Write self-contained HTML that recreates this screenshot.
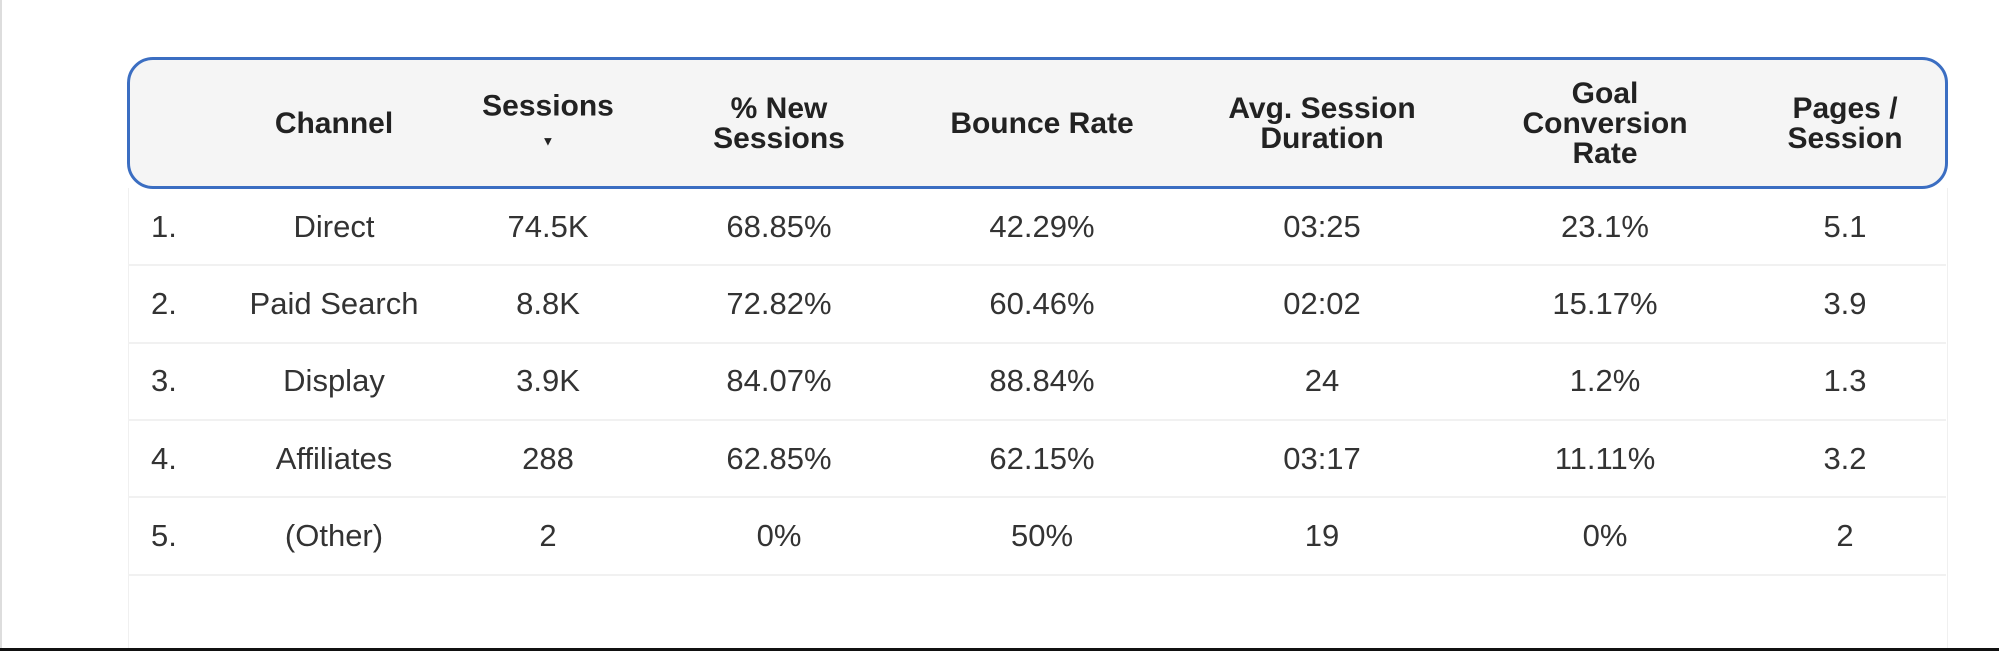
<!DOCTYPE html>
<html><head><meta charset="utf-8">
<style>
body{margin:0;width:1999px;height:651px;background:#fff;position:relative;overflow:hidden;font-family:"Liberation Sans",sans-serif;}
#leftline{position:absolute;left:0;top:0;width:2px;height:651px;background:#ddd;}
#bottomline{position:absolute;left:0;top:648px;width:1999px;height:3px;background:#111;}
#body{position:absolute;left:128px;top:188px;width:1818px;height:460px;background:#fff;border-left:1px solid #f0f0f0;border-right:1px solid #f0f0f0;}
#header{position:absolute;left:127px;top:57px;width:1815px;height:126px;background:#f5f5f5;border:3px solid #3b6ec2;border-radius:26px;}
.h{position:absolute;transform:translate(-50%,-50%);text-align:center;font-weight:bold;font-size:30px;line-height:30px;color:#222;white-space:nowrap;}
.c{position:absolute;transform:translate(-50%,-50%);font-size:31px;color:#333;white-space:nowrap;}
.idx{position:absolute;transform:translateY(-50%);font-size:31px;color:#333;}
.sep{position:absolute;left:128px;width:1818px;height:2px;background:#f1f1f1;}
</style></head>
<body>
<div id="leftline"></div>
<div id="body"></div>
<div id="header"></div>
<div class="h" style="left:334px;top:124px">Channel</div>
<div class="h" style="left:548px;top:124px">Sessions<br><span style="font-size:13px">▼</span></div>
<div class="h" style="left:779px;top:124px">% New<br>Sessions</div>
<div class="h" style="left:1042px;top:124px">Bounce Rate</div>
<div class="h" style="left:1322px;top:124px">Avg. Session<br>Duration</div>
<div class="h" style="left:1605px;top:124px">Goal<br>Conversion<br>Rate</div>
<div class="h" style="left:1845px;top:124px">Pages /<br>Session</div>
<div id="bottomline"></div>
<script>
const channels=["Direct","Paid Search","Display","Affiliates","(Other)"];
const sessions=["74.5K","8.8K","3.9K","288","2"];
const newSessions=["68.85%","72.82%","84.07%","62.85%","0%"];
const bounceRate=["42.29%","60.46%","88.84%","62.15%","50%"];
const avgDuration=["03:25","02:02","24","03:17","19"];
const goalRate=["23.1%","15.17%","1.2%","11.11%","0%"];
const pagesPerSession=["5.1","3.9","1.3","3.2","2"];
const cols=[channels,sessions,newSessions,bounceRate,avgDuration,goalRate,pagesPerSession];
const colNames=["channel","sessions","new-sessions","bounce-rate","avg-duration","goal-rate","pages-per-session"];
const colX=[334,548,779,1042,1322,1605,1845];
const rowTop=188,rowH=77.3;
for(let i=0;i<channels.length;i++){
  const cy=rowTop+rowH*i+rowH/2;
  const idx=document.createElement('div');
  idx.className='idx';idx.style.left='151px';idx.style.top=cy+'px';idx.textContent=(i+1)+'.';
  
  
  document.body.appendChild(idx);
  for(let j=0;j<cols.length;j++){
    const d=document.createElement('div');
    d.className='c';d.style.left=colX[j]+'px';d.style.top=cy+'px';d.textContent=cols[j][i];
    
    
    document.body.appendChild(d);
  }
  const s=document.createElement('div');
  s.className='sep';s.style.top=(rowTop+rowH*(i+1)-1)+'px';
  
  
  document.body.appendChild(s);
}
</script>
</body></html>
